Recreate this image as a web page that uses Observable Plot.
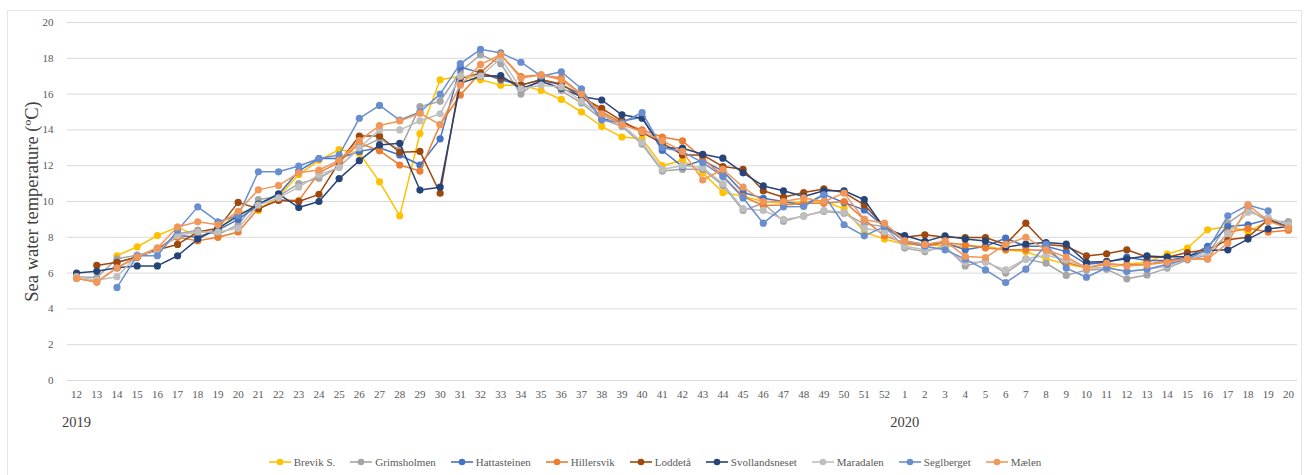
<!DOCTYPE html>
<html>
<head>
<meta charset="utf-8">
<script src="https://cdn.jsdelivr.net/npm/d3@7"></script>
<script src="https://cdn.jsdelivr.net/npm/@observablehq/plot@0.6"></script>
<style>
  html, body { margin: 0; padding: 0; background: #fff; }
  body { font-family: "Liberation Serif", "Times New Roman", serif; }
  #wrap { position: relative; width: 1310px; height: 475px; overflow: hidden; }
  #frame { position: absolute; left: 7px; top: 10px; width: 1295px; height: 470px; border: 1px solid #e6e6e6; box-sizing: border-box; pointer-events: none; }
  #chart { position: absolute; left: 0; top: 0; }
  #legend { position: absolute; left: 0; top: 456px; width: 1310px; display: flex; justify-content: center; align-items: center; gap: 15px; font-size: 11px; color: #595959; }
  .item { display: flex; align-items: center; gap: 3px; white-space: nowrap; }
</style>
</head>
<body>
<div id="wrap">
  <div id="frame"></div>
  <div id="chart"></div>
  <div id="legend"></div>
</div>
<script>
// Week tick labels (2019 week 12 ... 2020 week 20)
const weekLabels = [12,13,14,15,16,17,18,19,20,21,22,23,24,25,26,27,28,29,30,31,32,33,34,35,36,37,38,39,40,41,42,43,44,45,46,47,48,49,50,51,52,
                    1,2,3,4,5,6,7,8,9,10,11,12,13,14,15,16,17,18,19,20];
const yearLabels = ["2019", "2020"];

const seriesNames = ["Brevik S.", "Grimsholmen", "Hattasteinen", "Hillersvik", "Loddetå", "Svollandsneset", "Maradalen", "Seglberget", "Mælen"];
const seriesColors = ["#FFC000", "#A5A5A5", "#4472C4", "#ED7D31", "#9E480E", "#264478", "#BFBFBF", "#698ED0", "#F1975A"];

const brevik = [null,null,6.97,7.47,8.1,8.57,8.05,8.4,9.4,9.5,10.3,11.5,12.3,12.9,12.7,11.1,9.2,13.8,16.8,17.0,16.8,16.5,16.5,16.2,15.7,15.0,14.2,13.6,13.5,12.0,12.3,11.6,10.5,10.3,10.0,9.9,10.0,10.0,9.6,8.3,7.9,
  7.6,7.6,7.5,7.5,7.5,7.3,7.2,6.8,6.5,6.3,6.3,6.5,6.6,7.06,7.4,8.42,8.6,8.32,8.9,8.6];
const grimsholmen = [5.8,5.75,6.8,7.0,7.3,8.2,8.4,8.15,8.7,10.1,10.3,11.0,11.3,11.95,12.97,13.5,12.9,15.3,15.6,17.26,18.2,17.7,16.0,16.9,16.2,15.5,14.6,14.2,13.2,11.7,11.8,11.8,10.9,9.5,9.9,8.9,9.2,9.44,9.35,8.75,8.6,
  7.4,7.2,7.5,6.4,6.7,6.0,6.78,6.55,5.87,6.18,6.22,5.68,5.9,6.28,6.74,7.0,8.79,9.57,8.88,8.88];
const hattasteinen = [null,null,6.6,6.9,7.3,8.1,8.0,8.4,9.0,9.8,10.4,11.7,12.4,12.4,12.8,13.0,12.6,12.04,13.5,17.5,17.2,16.8,16.5,16.8,16.5,16.0,14.6,14.5,14.7,12.85,11.95,12.3,11.7,10.5,10.18,10.0,9.8,10.4,9.94,9.53,8.6,
  7.8,7.6,7.7,7.3,7.5,7.95,7.5,7.5,7.2,6.5,6.6,6.89,6.7,6.7,6.9,7.49,8.6,8.7,9.0,8.6];
const hillersvik = [5.7,5.5,6.3,6.9,7.4,8.0,7.8,8.0,8.3,9.6,10.1,10.05,11.6,12.2,13.25,12.84,12.04,11.7,14.3,15.95,17.2,18.2,16.98,17.07,16.9,16.0,15.0,14.4,14.0,13.6,13.39,12.4,11.43,10.28,9.77,9.8,9.9,9.9,10.0,9.0,8.08,
  7.7,7.5,7.7,7.58,7.4,7.3,7.3,7.26,6.6,6.3,6.5,6.46,6.5,6.69,6.8,6.8,8.27,8.5,8.29,8.4];
const loddeta = [null,6.43,6.6,6.9,7.3,7.6,8.3,8.5,9.95,9.6,10.06,10.0,10.4,12.2,13.66,13.66,12.75,12.8,10.46,16.88,17.16,16.9,16.5,16.8,16.57,15.82,15.2,14.5,13.85,13.26,12.6,12.6,11.95,11.8,10.6,10.24,10.5,10.7,10.5,9.81,8.6,
  8.0,8.14,8.0,7.99,7.99,7.6,8.79,7.6,7.5,6.96,7.08,7.3,6.9,6.89,7.15,7.3,7.86,8.0,9.0,8.51];
const svollandsneset = [6.0,6.1,6.3,6.4,6.4,6.97,7.9,8.5,9.2,9.85,10.43,9.66,10.0,11.28,12.28,13.16,13.25,10.64,10.8,16.6,17.0,17.03,16.3,16.7,16.32,15.86,15.67,14.84,14.65,13.0,12.98,12.64,12.42,11.6,10.87,10.6,10.28,10.6,10.6,10.1,8.5,
  8.1,7.77,8.08,7.9,7.8,7.45,7.62,7.71,7.62,6.6,6.65,6.8,6.96,6.9,6.93,7.26,7.3,7.9,8.47,8.6];
const maradalen = [5.8,5.6,5.8,7.0,7.2,8.1,8.3,8.3,8.5,9.8,10.2,10.8,11.5,11.9,13.0,14.0,14.0,14.5,14.9,17.0,17.0,18.0,16.3,16.5,16.4,15.6,14.8,14.3,13.3,11.8,12.0,11.9,11.0,9.6,9.5,9.0,9.16,9.5,9.4,8.5,8.3,
  7.5,7.3,7.4,6.6,6.6,6.18,6.8,7.0,6.74,6.3,6.3,6.1,6.2,6.4,6.8,7.1,8.2,9.4,9.1,8.7];
const seglberget = [null,null,5.2,6.97,6.97,8.4,9.7,8.87,9.2,11.66,11.66,11.98,12.4,12.6,14.65,15.37,14.55,15.0,16.0,17.7,18.5,18.3,17.78,17.0,17.25,16.3,14.55,14.4,14.97,13.0,12.79,12.17,11.4,10.2,8.79,9.7,9.72,10.37,8.7,8.08,8.6,
  7.8,7.5,7.3,6.78,6.18,5.47,6.22,7.6,6.28,5.77,6.3,6.09,6.22,6.5,6.8,7.3,9.2,9.8,9.48,null];
const maelen = [5.72,5.5,6.3,6.9,7.4,8.57,8.87,8.7,9.45,10.65,10.9,11.6,11.76,12.3,13.4,14.24,14.5,14.93,14.3,16.5,17.66,18.2,16.9,17.07,16.8,16.0,14.9,14.3,13.9,13.4,12.8,11.2,11.8,10.8,10.0,10.0,10.2,10.0,10.47,9.0,8.79,
  7.8,7.6,7.8,6.93,6.87,7.6,8.0,7.3,6.9,6.3,6.56,6.4,6.46,6.6,6.8,6.78,7.67,9.81,8.9,8.5];

const seriesValues = [brevik, grimsholmen, hattasteinen, hillersvik, loddeta, svollandsneset, maradalen, seglberget, maelen];
const yTicks = [0, 2, 4, 6, 8, 10, 12, 14, 16, 18, 20];

// table built from the arrays
const rows = [];
seriesNames.forEach((name, s) => {
  seriesValues[s].forEach((v, i) => { if (v != null) rows.push({series: name, i, week: weekLabels[i], v}); });
});
const yearIdx = [0, weekLabels.indexOf(1)];

const seriesMarks = seriesNames.flatMap((name) => {
  const d = rows.filter(r => r.series === name);
  return [
    Plot.line(d, {x: "i", y: "v", stroke: "series", strokeWidth: 1.5}),
    Plot.dot(d, {x: "i", y: "v", fill: "series", r: 3.6, stroke: "none"})
  ];
});

const chart = Plot.plot({
  width: 1310,
  height: 450,
  marginLeft: 67,
  marginRight: 13,
  marginTop: 22,
  marginBottom: 70,
  style: {fontFamily: "'Liberation Serif', 'Times New Roman', serif", color: "#595959", background: "transparent"},
  x: {domain: [-0.45, weekLabels.length - 1 + 0.45], axis: null},
  y: {domain: [0, 20], axis: null},
  color: {domain: seriesNames, range: seriesColors},
  marks: [
    Plot.gridY(yTicks, {stroke: "#d9d9d9", strokeOpacity: 1, strokeWidth: 1}),
    Plot.axisY({ticks: yTicks, tickSize: 0, tickPadding: 14, fontSize: 11, label: "Sea water temperature (ºC)", labelAnchor: "center", labelArrow: "none", labelOffset: 43}),
    Plot.axisX({ticks: d3.range(weekLabels.length), tickFormat: i => String(weekLabels[i]), tickSize: 0, tickPadding: 10, fontSize: 11, label: null}),
    Plot.axisX({ticks: yearIdx, tickFormat: i => yearLabels[yearIdx.indexOf(i)], tickSize: 0, tickPadding: 36, fontSize: 14.5, fill: "#404040", label: null}),
    ...seriesMarks
  ]
});
document.getElementById("chart").appendChild(chart);

// y-axis label styling
const lbl = chart.querySelector('[aria-label="y-axis label"]');
if (lbl) {
  lbl.setAttribute("font-size", "18.5");
  lbl.setAttribute("fill", "#404040");
  const t = lbl.querySelector("text");
  if (t) t.textContent = "Sea water temperature (ºC)";
}

// legend
const legend = document.getElementById("legend");
seriesNames.forEach((name, s) => {
  const item = document.createElement("div");
  item.className = "item";
  const c = seriesColors[s];
  item.innerHTML = `<svg width="22" height="10"><line x1="0" y1="5" x2="22" y2="5" stroke="${c}" stroke-width="1.6"/><circle cx="11" cy="5" r="3.3" fill="${c}"/></svg><span>${name}</span>`;
  legend.appendChild(item);
});
</script>
</body>
</html>
